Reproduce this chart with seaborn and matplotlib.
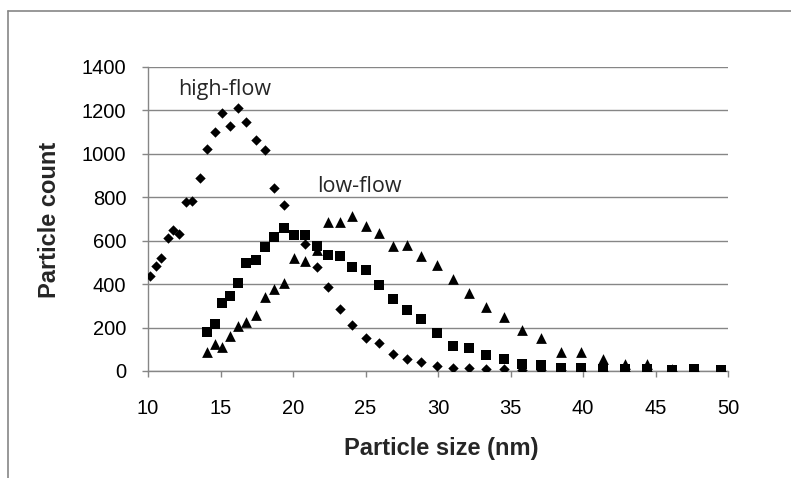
import numpy as np
import pandas as pd
import matplotlib
matplotlib.use("Agg")
import matplotlib.pyplot as plt
import seaborn as sns
from matplotlib.lines import Line2D

nan = np.nan

# Particle size bins (nm)
particle_size = [10.16, 10.53, 10.92, 11.36, 11.72, 12.16, 12.62, 13.06, 13.56,
                 14.05, 14.60, 15.10, 15.63, 16.20, 16.78, 17.43, 18.05, 18.70,
                 19.38, 20.10, 20.86, 21.66, 22.42, 23.23, 24.07, 25.00, 25.90,
                 26.87, 27.83, 28.86, 29.93, 31.03, 32.16, 33.32, 34.58, 35.82,
                 37.12, 38.50, 39.88, 41.38, 42.90, 44.39, 46.12, 47.66, 49.52]

# high-flow (diamonds)
high_flow = [438, 482, 522, 613, 651, 631, 778, 783, 888,
             1022, 1102, 1188, 1130, 1211, 1145, 1065, 1018, 845,
             763, nan, 585, 477, 386, 284, 212, 153, 130,
             76, 53, 40, 22, 14, 12, 9, 8, 5,
             4, 3, 2, 2, 1, 1, 1, 1, 0]

# low-flow series (squares)
low_flow_sq = [nan] * 9 + [179, 215, 315, 346, 405, 499, 513, 571, 616,
                           659, 628, 628, 577, 534, 531, 481, 466, 397,
                           331, 281, 239, 176, 116, 104, 73, 57, 32,
                           26, 16, 14, 10, 8, 7, 6, 8, 5]

# low-flow series (triangles)
low_flow_tri = [nan] * 9 + [88, 125, 111, 161, 207, 224, 258, 343, 377,
                            407, 520, 505, 559, 687, 687, 716, 667, 636,
                            577, 580, 528, 489, 423, 358, 293, 250, 188,
                            150, 88, 88, 53, 34, 34, 11, 5, 5]

x_ticks = [10, 15, 20, 25, 30, 35, 40, 45, 50]
y_ticks = [0, 200, 400, 600, 800, 1000, 1200, 1400]

df = pd.DataFrame({
    "size": particle_size,
    "high": high_flow,
    "low_sq": low_flow_sq,
    "low_tri": low_flow_tri,
})

sns.set_theme(style="white")
plt.rcParams["font.family"] = ["Liberation Sans", "DejaVu Sans"]

W, H = 791, 478
fig = plt.figure(figsize=(W / 100, H / 100), dpi=100)
L, R, T, B = 148, 728, 67, 371
ax = fig.add_axes([L / W, 1 - B / H, (R - L) / W, (B - T) / H])

grey = "#868686"

sns.scatterplot(data=df, x="size", y="high", marker="D", s=28, color="black",
                linewidth=0, ax=ax, zorder=3)
sns.scatterplot(data=df, x="size", y="low_sq", marker="s", s=54, color="black",
                linewidth=0, ax=ax, zorder=4)
sns.scatterplot(data=df, x="size", y="low_tri", marker="^", s=60, color="black",
                linewidth=0, ax=ax, zorder=5)

ax.set_xlim(10, 50)
ax.set_ylim(0, 1400)
ax.set_xticks(x_ticks)
ax.set_yticks(y_ticks)
ax.set_xticklabels([str(v) for v in x_ticks])
ax.set_yticklabels([str(v) for v in y_ticks])

ax.yaxis.grid(True, color=grey, linewidth=1.0)
ax.xaxis.grid(False)
ax.set_axisbelow(True)
for side in ["top", "right"]:
    ax.spines[side].set_visible(False)
for side in ["left", "bottom"]:
    ax.spines[side].set_color(grey)
    ax.spines[side].set_linewidth(1.0)

ax.tick_params(axis="both", which="major", direction="out", length=4.5,
               width=1.0, color=grey, labelsize=14.5, labelcolor="black")
ax.tick_params(axis="x", pad=16)
ax.tick_params(axis="y", pad=11)
ax.tick_params(axis="x", bottom=True)
ax.tick_params(axis="y", left=True)

ax.set_xlabel("Particle size (nm)", fontsize=17, fontweight="bold")
ax.set_ylabel("Particle count", fontsize=17, fontweight="bold")
ax.xaxis.label.set_va("center")
ax.yaxis.label.set_va("center")
ax.xaxis.set_label_coords((441 - L) / (R - L), -(449 - B) / (B - T))
ax.yaxis.set_label_coords((50 - L) / (R - L), 1 - (220 - T) / (B - T))

ax.text(15.3, 1272, "high-flow", fontsize=15.5, ha="center", va="baseline",
        family=["Open Sans", "DejaVu Sans"])
ax.text(24.55, 824, "low-flow", fontsize=15.5, ha="center", va="baseline",
        family=["Open Sans", "DejaVu Sans"])

# chart-area border (top and left visible)
fig.add_artist(Line2D([8 / W, 1.0], [1 - 11 / H, 1 - 11 / H],
                      transform=fig.transFigure, color=grey, linewidth=1.2))
fig.add_artist(Line2D([8 / W, 8 / W], [0.0, 1 - 11 / H],
                      transform=fig.transFigure, color=grey, linewidth=1.2))

fig.savefig("out.png", dpi=100)
